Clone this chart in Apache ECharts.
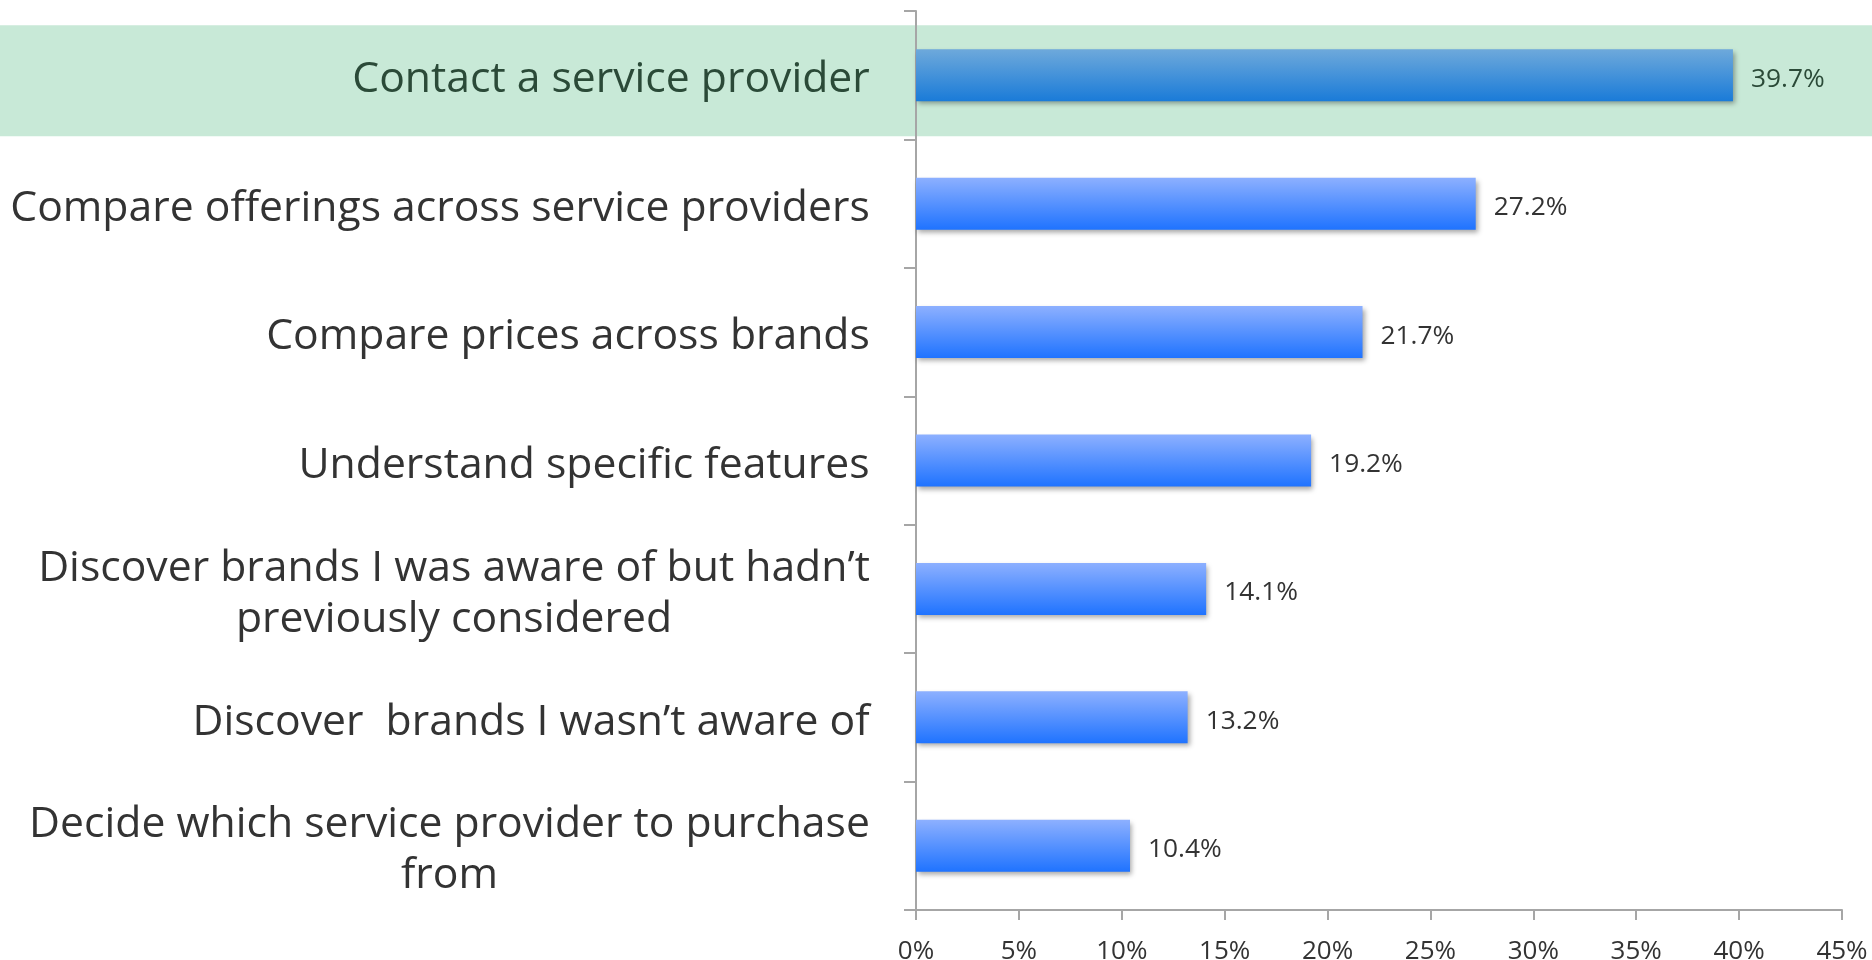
<!DOCTYPE html>
<html>
<head>
<meta charset="utf-8">
<script src="https://cdn.jsdelivr.net/npm/echarts@6/dist/echarts.min.js"></script>
<style>
  html, body { margin: 0; padding: 0; background: #ffffff; }
  #chart { width: 1872px; height: 960px; }
</style>
</head>
<body>
<div id="chart"></div>
<script>
// Survey answers, listed top to bottom
const categories = [
  'Contact a service provider',
  'Compare offerings across service providers',
  'Compare prices across brands',
  'Understand specific features',
  'Discover brands I was aware of but hadn\u2019t\npreviously considered',
  'Discover  brands I wasn\u2019t aware of',
  'Decide which service provider to purchase\nfrom'
];
const shares = [39.7, 27.2, 21.7, 19.2, 14.1, 13.2, 10.4];
const highlighted = 'Contact a service provider';
const xTicks = [0, 5, 10, 15, 20, 25, 30, 35, 40, 45];

const FONT = '"Open Sans", "Noto Sans", sans-serif';
const LABEL_SIZE = 42.7;

// measure the widest line of each label so multi-line labels can be centred line by line
const measureCtx = document.createElement('canvas').getContext('2d');
measureCtx.font = LABEL_SIZE + 'px ' + FONT;
function widest(text) {
  return Math.max.apply(null, text.split('\n').map(s => measureCtx.measureText(s).width));
}

const richStyles = {};
categories.forEach((c, i) => {
  richStyles['c' + i] = {
    width: Math.ceil(widest(c)) + 2,
    align: 'center',
    fontSize: LABEL_SIZE,
    lineHeight: 51,
    fontFamily: FONT,
    color: c === highlighted ? '#2b4a38' : '#333333'
  };
});

function barGradient(isHi) {
  return isHi
    ? new echarts.graphic.LinearGradient(0, 0, 0, 1, [
        { offset: 0, color: '#6ea9db' },
        { offset: 1, color: '#1a7bd8' }
      ])
    : new echarts.graphic.LinearGradient(0, 0, 0, 1, [
        { offset: 0, color: '#8db0ff' },
        { offset: 1, color: '#1f73ff' }
      ]);
}

const chart = echarts.init(document.getElementById('chart'));

const option = {
  backgroundColor: '#ffffff',
  animation: false,
  grid: {
    left: 916, right: 30, top: 11, bottom: 50,
    containLabel: false,
    outerBoundsMode: 'none'
  },
  xAxis: {
    type: 'value',
    min: xTicks[0],
    max: xTicks[xTicks.length - 1],
    interval: xTicks[1] - xTicks[0],
    splitLine: { show: false },
    axisLine: { show: true, lineStyle: { color: '#a6a6a6', width: 2 } },
    axisTick: { show: true, length: 10, lineStyle: { color: '#a6a6a6', width: 2 } },
    axisLabel: {
      margin: 29,
      fontSize: 26,
      fontFamily: FONT,
      color: '#333333',
      formatter: v => v + '%'
    }
  },
  yAxis: {
    type: 'category',
    inverse: true,
    data: categories,
    axisLine: { show: true, lineStyle: { color: '#a6a6a6', width: 2 } },
    axisTick: { show: true, length: 12, lineStyle: { color: '#a6a6a6', width: 2 } },
    axisLabel: {
      margin: 45,
      align: 'right',
      padding: [10, 0, 0, 0],
      formatter: value => {
        const key = 'c' + categories.indexOf(value);
        return value.split('\n').map(s => '{' + key + '|' + s + '}').join('\n');
      },
      rich: richStyles
    }
  },
  series: [{
    type: 'bar',
    barWidth: 52,
    data: shares.map((v, i) => {
      const isHi = categories[i] === highlighted;
      return {
        value: v,
        itemStyle: { color: barGradient(isHi) },
        label: { color: isHi ? '#2b4a38' : '#333333' }
      };
    }),
    itemStyle: {
      shadowColor: 'rgba(0,0,0,0.35)',
      shadowBlur: 5,
      shadowOffsetX: 2,
      shadowOffsetY: 3
    },
    label: {
      show: true,
      position: 'right',
      distance: 18,
      offset: [0, 4],
      fontSize: 26.3,
      fontFamily: FONT,
      formatter: p => p.value.toFixed(1) + '%'
    }
  }]
};

chart.setOption(option);

// soft green band behind the highlighted answer, across the full width
const hiIndex = categories.indexOf(highlighted);
const cy = chart.convertToPixel({ yAxisIndex: 0 }, hiIndex);
chart.setOption({
  graphic: [{
    type: 'rect',
    z: -10,
    silent: true,
    shape: { x: 0, y: cy - 50, width: chart.getWidth(), height: 111 },
    style: { fill: '#c8e9d7' }
  }]
});
</script>
</body>
</html>
